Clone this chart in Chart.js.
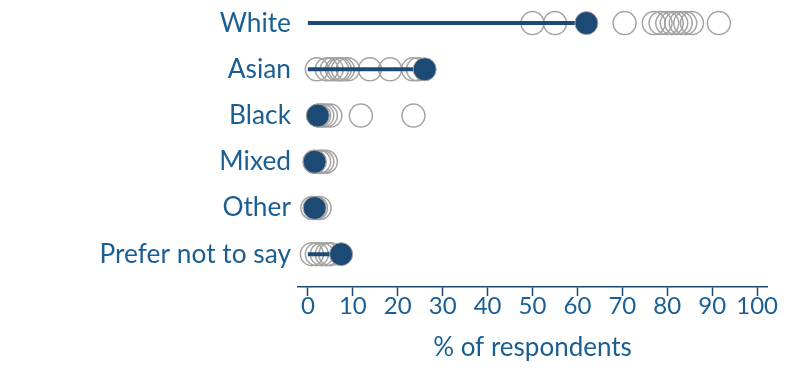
<!DOCTYPE html>
<html>
<head>
<meta charset="utf-8">
<script src="https://cdn.jsdelivr.net/npm/chart.js@4/dist/chart.umd.min.js"></script>
<style>
  html, body { margin: 0; padding: 0; background: #fff; }
  #wrap { width: 800px; height: 378px; }
</style>
</head>
<body>
<div id="wrap"><canvas id="dotChart"></canvas></div>
<script>
const categories = ['White', 'Asian', 'Black', 'Mixed', 'Other', 'Prefer not to say'];
const highlighted = [62, 26, 2.2, 1.5, 1.5, 7.4];
const whiteOthers = [50, 55, 70.5, 77, 78.5, 80, 81, 82, 83, 84, 85.5, 91.5];
const asianOthers = [2, 4.2, 5.3, 6.5, 7.1, 7.8, 8.9, 13.8, 18.3, 23.4, 24.5];
const blackOthers = [2.5, 3.2, 4, 5, 11.8, 23.5];
const mixedOthers = [1.5, 2.5, 3.2, 4];
const otherOthers = [1, 1.8, 2.6];
const preferOthers = [0.9, 2, 3.1, 4.2, 5];
const xTicks = [0, 10, 20, 30, 40, 50, 60, 70, 80, 90, 100];

const textBlue = '#1a5f93';
const dotBlue = '#1d4a75';
const ringGrey = '#a3a3a3';
const othersByCategory = [whiteOthers, asianOthers, blackOthers, mixedOthers, otherOthers, preferOthers];

const hollowPoints = [];
othersByCategory.forEach((vals, i) => vals.forEach(v => hollowPoints.push({ x: v, y: i })));

const lineSets = highlighted.map((v, i) => ({
  type: 'line',
  data: [{ x: 0, y: i }, { x: v, y: i }],
  borderColor: dotBlue,
  borderWidth: 4,
  pointRadius: 0,
  showLine: true,
  order: 1
}));

const datasets = [
  {
    label: 'Selected',
    data: highlighted.map((v, i) => ({ x: v, y: i })),
    backgroundColor: dotBlue,
    borderColor: ringGrey,
    borderWidth: 1,
    pointRadius: 11.5,
    pointHoverRadius: 11.5,
    order: 0
  },
  ...lineSets,
  {
    label: 'Others',
    data: hollowPoints,
    backgroundColor: 'rgba(0,0,0,0)',
    borderColor: ringGrey,
    borderWidth: 1.5,
    pointRadius: 11.5,
    pointHoverRadius: 11.5,
    order: 2
  }
];

const ctx = document.getElementById('dotChart');
new Chart(ctx, {
  type: 'scatter',
  data: { datasets },
  options: {
    responsive: true,
    maintainAspectRatio: false,
    animation: false,
    layout: { autoPadding: false, padding: { left: 0, right: 33, top: 0, bottom: 0 } },
    scales: {
      x: {
        type: 'linear',
        min: -2.2,
        max: 102.2,
        afterBuildTicks: (scale) => { scale.ticks = xTicks.map(v => ({ value: v })); },
        afterFit: (scale) => { scale.height = 91; },
        grid: { drawOnChartArea: false, color: dotBlue, tickLength: 9, tickWidth: 1.5 },
        border: { color: dotBlue, width: 1.5 },
        ticks: { color: textBlue, font: { family: 'Lato', size: 24 }, padding: -4, maxRotation: 0, autoSkip: false },
        title: { display: true, text: '% of respondents', color: textBlue, font: { family: 'Lato', size: 26 }, padding: { top: 0, bottom: 15 } }
      },
      y: {
        type: 'linear',
        reverse: true,
        min: -0.5,
        max: 5.71,
        afterBuildTicks: (scale) => { scale.ticks = categories.map((c, i) => ({ value: i })); },
        afterFit: (scale) => { scale.width = 298; scale.paddingTop = 0; scale.paddingBottom = 0; },
        grid: { display: false, drawTicks: false },
        border: { display: false },
        ticks: {
          color: textBlue,
          font: { family: 'Lato', size: 26.3 },
          padding: 7,
          callback: (value) => categories[value]
        }
      }
    },
    plugins: {
      legend: { display: false },
      tooltip: { enabled: false }
    },
    elements: { point: { hitRadius: 0 } },
    clip: false
  }
});
</script>
</body>
</html>
